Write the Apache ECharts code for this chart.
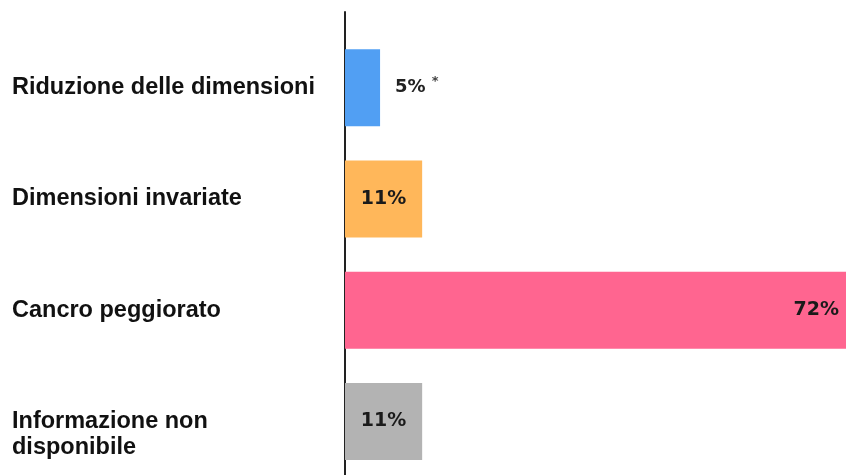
<!DOCTYPE html>
<html>
<head>
<meta charset="utf-8">
<script src="https://cdn.jsdelivr.net/npm/echarts@6/dist/echarts.min.js"></script>
<style>
  html, body { margin: 0; padding: 0; background: #fff; }
  #chart { width: 846px; height: 475px; }
</style>
</head>
<body>
<div id="chart"></div>
<script>
// categories top to bottom
const categories = ['Riduzione delle dimensioni', 'Dimensioni invariate', 'Cancro peggiorato', 'Informazione non\ndisponibile']
const values = [5, 11, 72, 11]
const barColors = ['#519ff3', '#ffb75a', '#ff6590', '#b3b3b3']
const valueLabels = ['5%', '11%', '72%', '11%']

const labelFont = 'DejaVu Sans'
const axisLineColor = '#222'

const chart = echarts.init(document.getElementById('chart'))

const seriesData = values.map((v, i) => {
  let label = { position: 'inside' }
  if (i === 0) {
    // small bar, label sits right of it with a footnote star
    label = {
      position: 'right',
      distance: 15,
      formatter: '{v|' + valueLabels[i] + '}{s|*}',
      rich: {
        v: { fontFamily: labelFont, fontWeight: 'bold', fontSize: 18, color: '#222' },
        s: { fontFamily: labelFont, fontSize: 13, color: '#444', padding: [0, 0, 12, 6] }
      }
    }
  } else if (v > 50) {
    label = { position: 'insideRight', distance: 11 }
  }
  return {
    value: v,
    itemStyle: { color: barColors[i] },
    label
  }
})

chart.setOption({
  animation: false,
  grid: [
    { left: 345, right: -4, top: 32, height: 445, outerBoundsMode: 'none', containLabel: false },
    // only for the long vertical axis line
    { left: 345, right: -4, top: 12, bottom: -10, outerBoundsMode: 'none', containLabel: false }
  ],
  xAxis: [
    { type: 'value', gridIndex: 0, min: 0, max: 72, show: false },
    { type: 'value', gridIndex: 1, min: 0, max: 1, show: false }
  ],
  yAxis: [
    {
      type: 'category',
      gridIndex: 0,
      inverse: true,
      data: categories,
      axisLine: { show: false },
      axisTick: { show: false },
      axisLabel: {
        align: 'left',
        margin: 333,
        fontFamily: 'Liberation Sans',
        fontWeight: 'bold',
        fontSize: 23.5,
        lineHeight: 26,
        color: '#111',
        // two-line label sits a bit lower than its bar
        formatter: (v, i) => (v.indexOf('\n') >= 0 ? '\n' + v : v)
      }
    },
    {
      type: 'value',
      gridIndex: 1,
      min: 0,
      max: 1,
      axisLine: { show: true, lineStyle: { color: axisLineColor, width: 2 } },
      axisTick: { show: false },
      axisLabel: { show: false },
      splitLine: { show: false }
    }
  ],
  series: [
    {
      type: 'bar',
      xAxisIndex: 0,
      yAxisIndex: 0,
      barWidth: 77,
      data: seriesData,
      label: {
        show: true,
        formatter: p => valueLabels[p.dataIndex],
        fontFamily: labelFont,
        fontWeight: 'bold',
        fontSize: 19,
        color: '#1a1a1a'
      }
    }
  ]
})
</script>
</body>
</html>
